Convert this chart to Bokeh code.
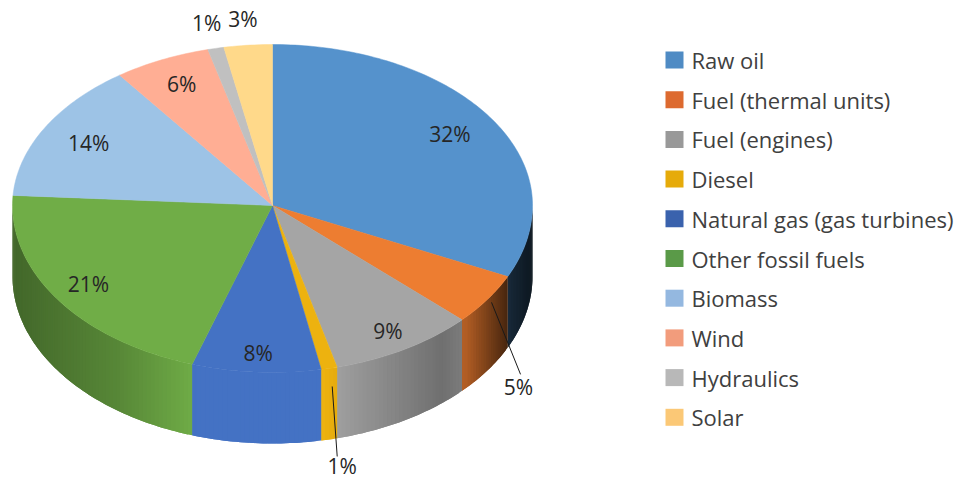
import math
from bokeh.plotting import figure
from bokeh.models import Range1d
from bokeh.core.properties import value
from bokeh.embed import file_html
from bokeh.resources import INLINE

# ---- data ----
categories = ["Raw oil", "Fuel (thermal units)", "Fuel (engines)", "Diesel",
              "Natural gas (gas turbines)", "Other fossil fuels", "Biomass",
              "Wind", "Hydraulics", "Solar"]
percent = [32, 5, 9, 1, 8, 21, 14, 6, 1, 3]

# ---- style ----
top_colors = ["#5592CC", "#ED7D31", "#A5A5A5", "#EDB20F", "#4472C4",
              "#70AD47", "#9DC3E6", "#FFAE94", "#C0C0C0", "#FFD98A"]
legend_colors = ["#4F8BC4", "#DD6A2F", "#999999", "#E6AB0A", "#3A62AD",
                 "#5A9A48", "#94B8E0", "#F29C7C", "#B8B8B8", "#FBC876"]
label_dx = [-42, 31, -17, 13, 2, 31, 44, 20, -9, -5]
label_dy = [15, 88, -18, 98, -19, -15, 15, 24, -25, -26]
leaders = {1: (4, 3, 33, 75), 3: (3, 18, 8, 88)}

CX, CY, RX, RY_BACK, RY_FRONT, DEPTH = 272, 205, 260, 161, 167, 71
shade_u = [-1.0, -0.6, -0.3, 0.2, 0.65, 0.74, 0.92, 1.0]
shade_f = [0.60, 0.78, 1.0, 1.0, 0.68, 0.76, 0.26, 0.16]


def rim(theta):
    c = math.cos(theta)
    return CX + RX * math.sin(theta), CY - (RY_BACK if c > 0 else RY_FRONT) * c


def shade(u):
    for i in range(len(shade_u) - 1):
        if u <= shade_u[i + 1]:
            t = (u - shade_u[i]) / (shade_u[i + 1] - shade_u[i])
            return shade_f[i] + t * (shade_f[i + 1] - shade_f[i])
    return shade_f[-1]


def scaled(color, f):
    r, g, b = (int(color[i:i + 2], 16) for i in (1, 3, 5))
    return "#%02x%02x%02x" % (int(r * f), int(g * f), int(b * f))


W, H = 958, 482
p = figure(width=W, height=H, x_range=Range1d(0, W), y_range=Range1d(H, 0),
           output_backend="svg", toolbar_location=None, min_border=0,
           outline_line_color=None, background_fill_color="white")
p.xaxis.visible = False
p.yaxis.visible = False
p.grid.visible = False

total = sum(percent)
edges = [0.0]
for v in percent:
    edges.append(edges[-1] + v / total * 2 * math.pi)

STEP = math.radians(1.0)
qx, qy, qc = [], [], []
tx, ty, tc = [], [], []
for i, col in enumerate(top_colors):
    a, b = edges[i], edges[i + 1]
    n = max(2, int((b - a) / STEP) + 1)
    th = [a + (b - a) * k / n for k in range(n + 1)]
    pts = [rim(t) for t in th]
    tx.append([CX] + [q[0] for q in pts])
    ty.append([CY] + [q[1] for q in pts])
    tc.append(col)
    for k in range(n):
        t0, t1 = th[k], th[k + 1]
        if math.cos((t0 + t1) / 2) >= 0.0:
            continue
        j = min(k + 2, n)          # each strip runs under the next one
        x0, y0 = pts[k]
        xs = [q[0] for q in pts[k:j + 1]]
        ys = [q[1] for q in pts[k:j + 1]]
        qx.append(xs + xs[::-1])
        qy.append(ys + [y + DEPTH for y in ys[::-1]])
        qc.append(scaled(col, shade(((x0 + pts[k + 1][0]) / 2 - CX) / RX)))

p.patches(qx, qy, fill_color=qc, line_color=None)
p.patches(tx, ty, fill_color=tc, line_color=tc, line_width=0.5)

# data labels + leaders
lx, ly, lt = [], [], []
for i, v in enumerate(percent):
    mid = (edges[i] + edges[i + 1]) / 2
    rx0, ry0 = rim(mid)
    lx.append(rx0 + label_dx[i])
    ly.append(ry0 + label_dy[i])
    lt.append(f"{v}%")
    if i in leaders:
        d = leaders[i]
        p.line([rx0 + d[0], rx0 + d[2]], [ry0 + d[1], ry0 + d[3]], line_color="#1a1a1a", line_width=1)

p.text(lx, ly, text=lt, text_font=value("Open Sans"), text_font_size="21px",
       text_color="#262626", text_align="center", text_baseline="middle")

# legend
ROW0, ROWH = 59.5, 39.7
rows = [ROW0 + ROWH * i for i in range(len(categories))]
p.rect([674] * len(rows), rows, width=18, height=17, fill_color=legend_colors, line_color=None)
p.text([691] * len(rows), rows, text=categories, text_font=value("Open Sans"), text_font_size="22px",
       text_color="#404040", text_align="left", text_baseline="middle")

open("out.html", "w").write(file_html(p, INLINE))
